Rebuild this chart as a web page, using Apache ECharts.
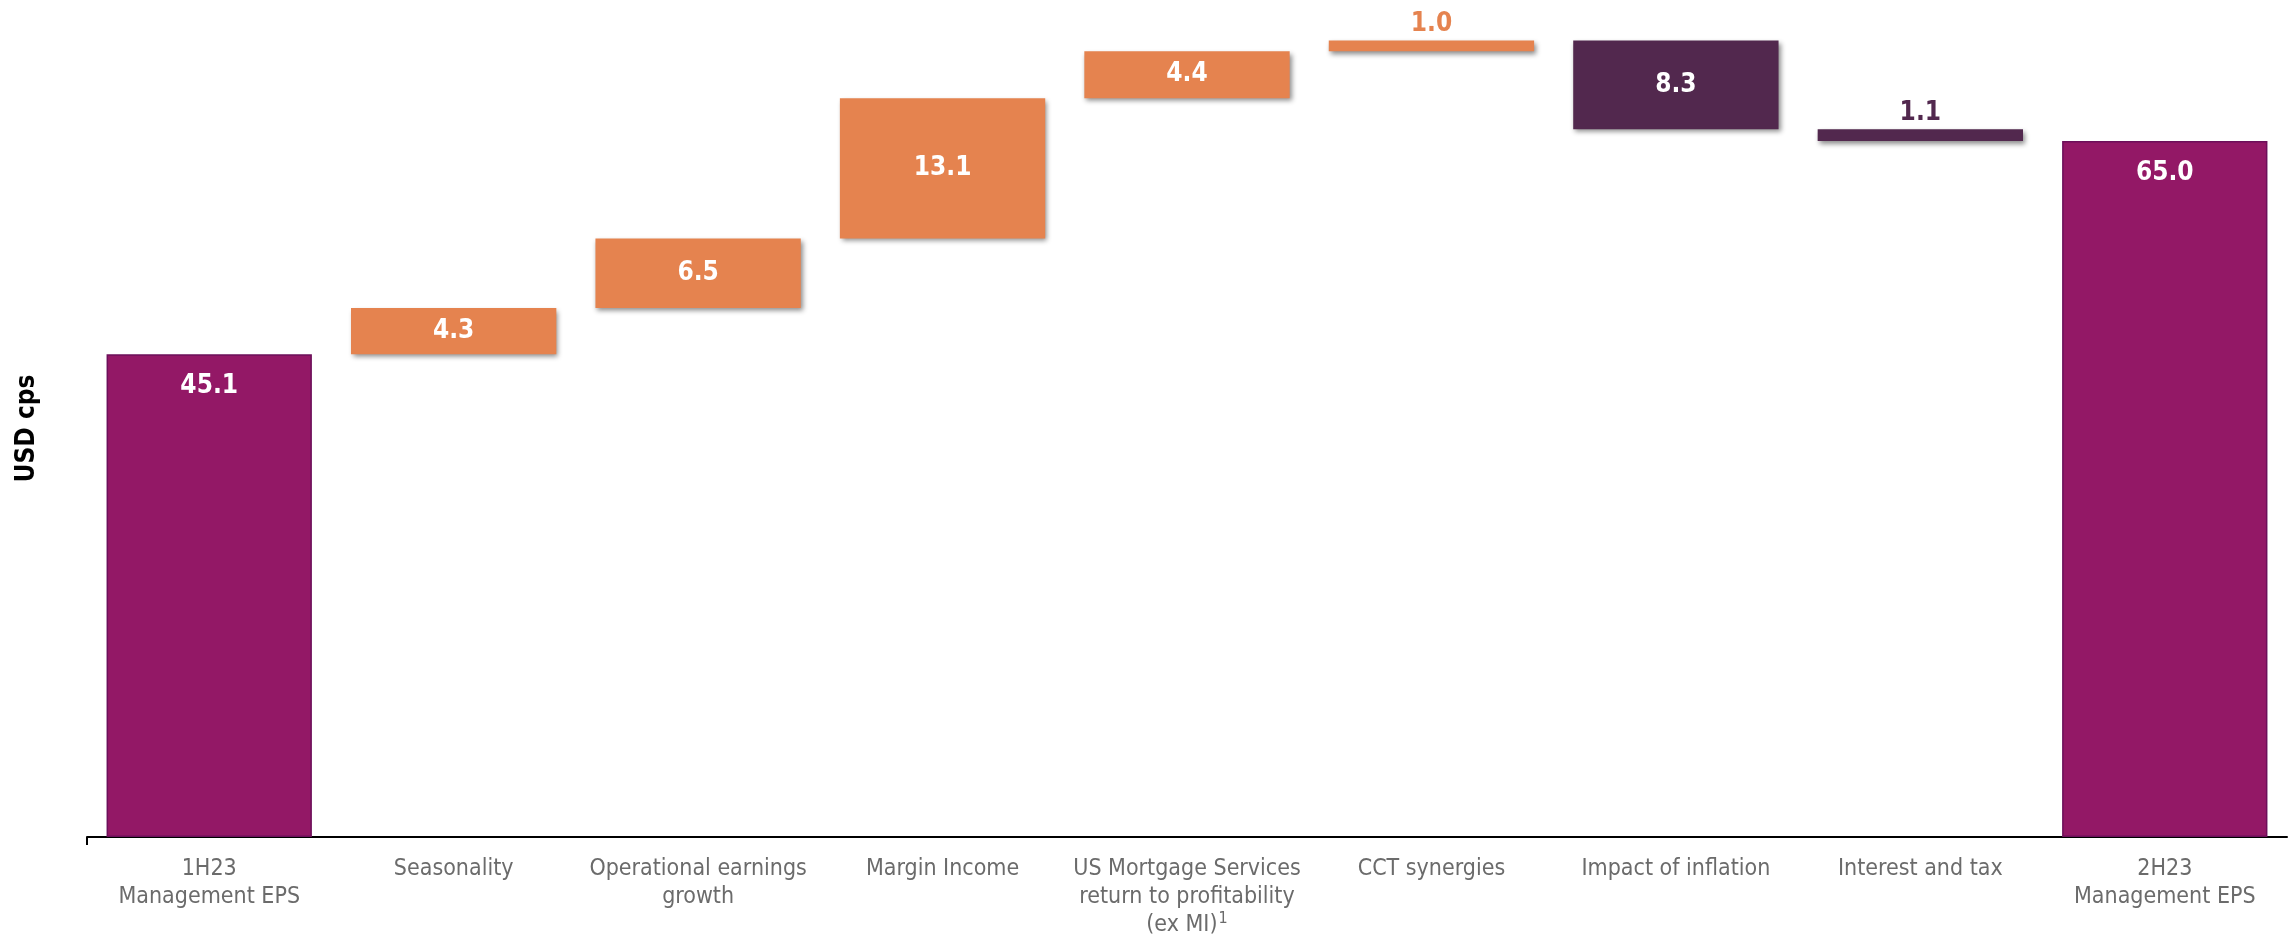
<!DOCTYPE html>
<html>
<head>
<meta charset="utf-8">
<script src="https://cdn.jsdelivr.net/npm/echarts@6/dist/echarts.min.js"></script>
<style>
html,body{margin:0;padding:0;background:#fff;}
#chart{width:2290px;height:940px;}
</style>
</head>
<body>
<div id="chart"></div>
<script>
// ---- data ----
const categories = [
  '1H23\nManagement EPS',
  'Seasonality',
  'Operational earnings\ngrowth',
  'Margin Income',
  'US Mortgage Services\nreturn to profitability\n(ex MI){sup|1}',
  'CCT synergies',
  'Impact of inflation',
  'Interest and tax',
  '2H23\nManagement EPS'
];
const steps = [45.1, 4.3, 6.5, 13.1, 4.4, 1.0, -8.3, -1.1, 65.0];
const kinds = ['total', 'up', 'up', 'up', 'up', 'up', 'down', 'down', 'total'];
const yAxisName = 'USD cps';

// ---- styles ----
const colors = { total: '#931866', up: '#E5834F', down: '#52284E' };
const boldFont = '"DejaVu Sans Condensed", "DejaVu Sans", sans-serif';
const catFont = '"DejaVu Sans Condensed", "DejaVu Sans", sans-serif';

// waterfall table built from the data
let running = 0;
const baseData = [];
const barData = [];
steps.forEach((v, i) => {
  const k = kinds[i];
  let base, h;
  if (k === 'total') { base = 0; h = v; running = v; }
  else if (v >= 0) { base = running; h = v; running += v; }
  else { running += v; base = running; h = -v; }
  baseData.push(base);
  const small = Math.abs(v) < 2;
  const item = {
    value: h,
    itemStyle: k === 'total'
      ? { color: colors.total, borderColor: '#6c0f5a', borderWidth: 1.5 }
      : { color: colors[k], shadowColor: 'rgba(0,0,0,0.45)', shadowBlur: 5, shadowOffsetX: 2, shadowOffsetY: 3 },
    label: k === 'total'
      ? { position: 'insideTop', distance: 19, color: '#fff' }
      : small
        ? { position: 'top', distance: 3, color: colors[k] }
        : { position: 'inside', color: '#fff' }
  };
  barData.push(item);
});

const chart = echarts.init(document.getElementById('chart'), null, { renderer: 'canvas' });
chart.setOption({
  animation: false,
  backgroundColor: '#fff',
  grid: { left: 87, right: 3, top: 34, bottom: 103 },
  xAxis: [{
    type: 'category',
    data: categories,
    boundaryGap: true,
    axisLine: { show: true, lineStyle: { color: '#000', width: 2 } },
    axisTick: { show: false },
    axisLabel: {
      interval: 0,
      margin: 18,
      fontFamily: catFont,
      fontSize: 23,
      lineHeight: 28,
      color: '#6b6b6b',
      rich: {
        sup: { fontFamily: catFont, fontSize: 16, color: '#6b6b6b', verticalAlign: 'top', lineHeight: 28, padding: [0, 0, 12, 1] }
      }
    }
  }, {
    // helper axis: draws only the single tick at the left end of the baseline
    type: 'value',
    position: 'bottom',
    min: 0,
    max: 1,
    axisLine: { show: false },
    axisLabel: { show: false },
    splitLine: { show: false },
    axisTick: { show: true, customValues: [0], length: 8, lineStyle: { color: '#000', width: 2 } }
  }],
  yAxis: {
    type: 'value',
    min: 0,
    max: 75,
    name: yAxisName,
    nameLocation: 'middle',
    nameGap: 47,
    nameRotate: 90,
    nameTextStyle: { fontFamily: boldFont, fontWeight: 'bold', fontSize: 26, color: '#000', padding: [0, 0, 0, 14] },
    axisLine: { show: false },
    axisTick: { show: false },
    axisLabel: { show: false },
    splitLine: { show: false }
  },
  series: [
    {
      type: 'bar',
      stack: 'wf',
      barWidth: '84%',
      silent: true,
      itemStyle: { color: 'transparent' },
      data: baseData
    },
    {
      type: 'bar',
      stack: 'wf',
      barWidth: '84%',
      label: {
        show: true,
        fontFamily: boldFont,
        fontWeight: 'bold',
        fontSize: 26,
        formatter: (p) => steps[p.dataIndex].toFixed(1).replace('-', '')
      },
      data: barData
    }
  ]
});
</script>
</body>
</html>
